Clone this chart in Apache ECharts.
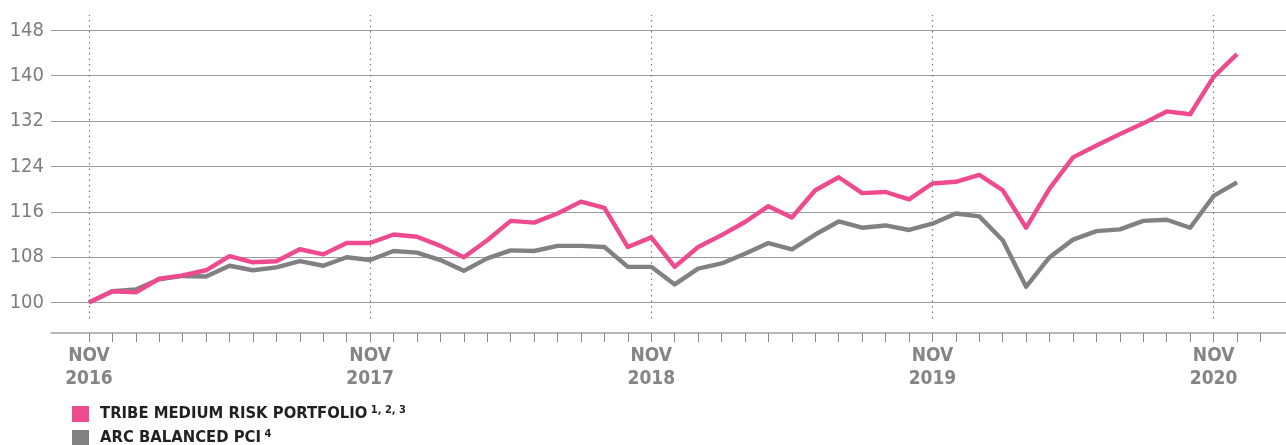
<!DOCTYPE html>
<html>
<head>
<meta charset="utf-8">
<script src="https://cdn.jsdelivr.net/npm/echarts@6/dist/echarts.min.js"></script>
<style>
  html, body { margin: 0; padding: 0; background: #fff; }
  #chart { width: 1286px; height: 445px; }
</style>
</head>
<body>
<div id="chart"></div>
<script>
// month index 0 = Nov 2016
var tribeName = 'TRIBE MEDIUM RISK PORTFOLIO';
var arcName = 'ARC BALANCED PCI';
var tribeValues = [
  100.0, 102.0, 101.8, 104.2, 104.8, 105.7, 108.2, 107.1, 107.3, 109.4,
  108.5, 110.5, 110.5, 112.0, 111.6, 110.0, 108.0, 111.0, 114.4, 114.1,
  115.7, 117.8, 116.7, 109.8, 111.5, 106.3, 109.8, 111.9, 114.2, 117.0,
  115.0, 119.8, 122.1, 119.3, 119.5, 118.2, 121.0, 121.3, 122.5, 119.8,
  113.2, 120.1, 125.6, 127.7, 129.7, 131.6, 133.7, 133.2, 139.8, 143.8
];
var arcValues = [
  100.0, 102.0, 102.3, 104.1, 104.7, 104.6, 106.5, 105.7, 106.2, 107.3,
  106.5, 108.0, 107.5, 109.1, 108.8, 107.5, 105.6, 107.8, 109.2, 109.1,
  110.0, 110.0, 109.8, 106.3, 106.3, 103.2, 106.0, 106.9, 108.6, 110.5,
  109.4, 112.0, 114.3, 113.2, 113.6, 112.8, 113.9, 115.7, 115.2, 111.0,
  102.8, 108.0, 111.1, 112.6, 112.9, 114.4, 114.6, 113.2, 118.8, 121.2
];
var monthTicks = [];
for (var m = 0; m <= 50; m++) monthTicks.push(m);
var yearMonths = [0, 12, 24, 36, 48];
var yearLabels = ['NOV\n2016', 'NOV\n2017', 'NOV\n2018', 'NOV\n2019', 'NOV\n2020'];
var yTicks = [100, 108, 116, 124, 132, 140, 148];
var legendNotes = {};
legendNotes[tribeName] = '1, 2, 3';
legendNotes[arcName] = '4';

var font = '"Liberation Sans Narrow", "DejaVu Sans Condensed", "Roboto", sans-serif';

function toPoints(values) {
  return values.map(function (v, i) { return [i, v]; });
}

function legendFor(name, top) {
  return {
    orient: 'vertical',
    left: 72,
    top: top,
    padding: 0,
    icon: 'rect',
    itemWidth: 17,
    itemHeight: 16,
    data: [name],
    formatter: function (n) {
      return '{main|' + n + '} {sup|' + legendNotes[n] + '}';
    },
    textStyle: {
      padding: [0, 0, 0, 6],
      rich: {
        main: { fontFamily: font, fontSize: 16.5, fontWeight: 'bold', color: '#231f20', lineHeight: 18 },
        sup: { fontFamily: font, fontSize: 11, fontWeight: 'bold', color: '#231f20', verticalAlign: 'top', lineHeight: 18 }
      }
    }
  };
}

var chart = echarts.init(document.getElementById('chart'));
chart.setOption({
  animation: false,
  textStyle: { fontFamily: font },
  grid: { left: 51, right: 0, top: 15, bottom: 112 },
  legend: [legendFor(tribeName, 405), legendFor(arcName, 429)],
  xAxis: {
    type: 'value',
    min: -1.62,
    max: 51.09,
    splitLine: { show: false },
    axisLine: { lineStyle: { color: '#a0a0a0', width: 1.5 } },
    axisTick: {
      customValues: monthTicks,
      length: 9,
      lineStyle: { color: '#8c8c8c', width: 1 }
    },
    axisLabel: {
      customValues: yearMonths,
      margin: 12,
      color: '#858585',
      fontFamily: font,
      fontSize: 19,
      fontWeight: 'bold',
      lineHeight: 23,
      formatter: function (v) {
        var k = yearMonths.indexOf(Math.round(v));
        return k >= 0 ? yearLabels[k] : '';
      }
    }
  },
  yAxis: {
    type: 'value',
    min: 94.64,
    max: 150.7,
    axisLine: { show: false },
    axisTick: { show: false, customValues: yTicks },
    axisLabel: {
      customValues: yTicks,
      margin: 7,
      color: '#7d7d7d',
      fontFamily: font,
      fontSize: 20
    },
    splitLine: { lineStyle: { color: '#9c9c9c', width: 1.2 } }
  },
  series: [
    {
      name: arcName,
      type: 'line',
      data: toPoints(arcValues),
      symbol: 'none',
      color: '#818184',
      lineStyle: { width: 4.4, color: '#818184', join: 'round' },
      z: 3,
      markLine: {
        silent: true,
        symbol: 'none',
        label: { show: false },
        lineStyle: { type: [1.5, 4], color: '#7a7a7a', width: 1.2 },
        data: yearMonths.map(function (m) {
          return [{ coord: [m, 97.2] }, { coord: [m, 150.7] }];
        })
      }
    },
    {
      name: tribeName,
      type: 'line',
      data: toPoints(tribeValues),
      symbol: 'none',
      color: '#ee4b8f',
      lineStyle: { width: 4.4, color: '#ee4b8f', join: 'round' },
      z: 4
    }
  ]
});
</script>
</body>
</html>
